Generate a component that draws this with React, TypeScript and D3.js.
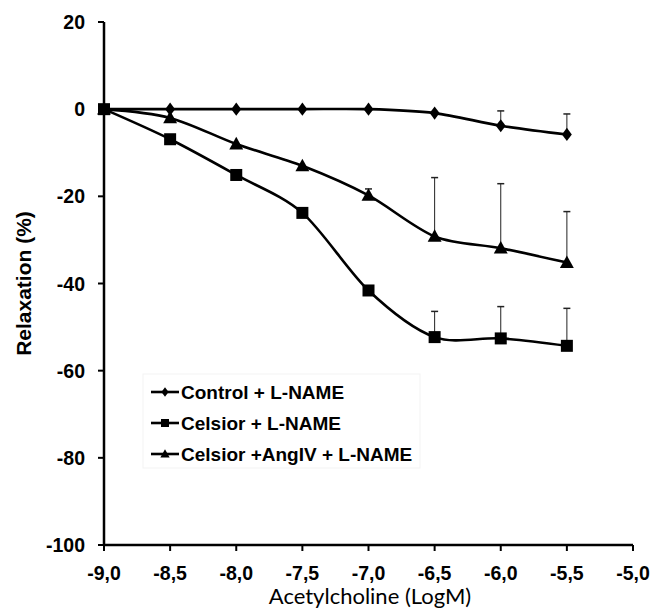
import React from 'react';
import * as d3 from 'd3';

// dimensions
const width = 654;
const height = 611;
const margin = { left: 104, right: 21, top: 22, bottom: 66 };

// data
const doses = [-9, -8.5, -8, -7.5, -7, -6.5, -6, -5.5];
const controlValues = [0, 0, 0, 0, 0, -0.9, -3.8, -5.8];
const controlErrors = [0, 0, 0, 0, 0, 0, 3.4, 4.7];
const celsiorValues = [0, -6.9, -15.1, -23.8, -41.6, -52.3, -52.6, -54.3];
const celsiorErrors = [0, 0, 0, 0, 0, 5.9, 7.3, 8.6];
const angValues = [0, -2, -8, -13, -19.8, -29.2, -31.9, -35.2];
const angErrors = [0, 0, 0, 0, 1.5, 13.5, 14.8, 11.7];

const xTicks = [-9, -8.5, -8, -7.5, -7, -6.5, -6, -5.5, -5];
const yTicks = [20, 0, -20, -40, -60, -80, -100];

const seriesNames = ['Control + L-NAME', 'Celsior + L-NAME', 'Celsior +AngIV + L-NAME'];
const seriesShapes = ['diamond', 'square', 'triangle'];

const x = d3.scaleLinear().domain([-9, -5]).range([margin.left, width - margin.right]);
const y = d3.scaleLinear().domain([-100, 20]).range([height - margin.bottom, margin.top]);

const fmt = (v: number) => v.toFixed(1).replace('.', ',');

function marker(shape: string, cx: number, cy: number, s: number, key?: any) {
  if (shape === 'diamond') {
    return <path key={key} d={`M${cx},${cy - s * 0.6}L${cx + s * 0.45},${cy}L${cx},${cy + s * 0.6}L${cx - s * 0.45},${cy}Z`} fill="#000" />;
  }
  if (shape === 'square') {
    return <rect key={key} x={cx - s / 2} y={cy - s / 2} width={s} height={s} fill="#000" />;
  }
  return <path key={key} d={`M${cx},${cy - s * 0.6}L${cx + s * 0.58},${cy + s * 0.45}L${cx - s * 0.58},${cy + s * 0.45}Z`} fill="#000" />;
}

export default function App() {
  const series = [
    { values: controlValues, errors: controlErrors, size: 11 },
    { values: celsiorValues, errors: celsiorErrors, size: 12 },
    { values: angValues, errors: angErrors, size: 12 },
  ];
  const line = d3.line<number>()
    .x((_, i) => x(doses[i]))
    .y(d => y(d))
    .curve(d3.curveCardinal.tension(0.1));

  const font = 'Liberation Sans, Arial, sans-serif';
  const x0 = margin.left;
  const y0 = height - margin.bottom;

  return (
    <svg width={width} height={height} style={{ position: 'absolute', left: 0, top: 0, background: '#fff' }}>
      {/* error bars */}
      {series.map((s, si) => s.values.map((v, i) => s.errors[i] > 0 ? (
        <g key={`e${si}-${i}`} stroke="#222" strokeWidth={1}>
          <line x1={x(doses[i])} x2={x(doses[i])} y1={y(v)} y2={y(v + s.errors[i])} />
          <line x1={x(doses[i]) - 3.5} x2={x(doses[i]) + 3.5} y1={y(v + s.errors[i])} y2={y(v + s.errors[i])} strokeWidth={1.5} />
        </g>
      ) : null))}
      {/* lines */}
      {series.map((s, si) => (
        <path key={`l${si}`} d={line(s.values) || ''} fill="none" stroke="#000" strokeWidth={2.6} />
      ))}
      {/* markers */}
      {series.map((s, si) => s.values.map((v, i) => marker(seriesShapes[si], x(doses[i]), y(v), s.size, `m${si}-${i}`)))}

      {/* axes */}
      <line x1={x0} x2={x0} y1={y(20)} y2={y0} stroke="#000" strokeWidth={2.5} />
      <line x1={x0} x2={width - margin.right} y1={y0} y2={y0} stroke="#000" strokeWidth={2.5} />
      {yTicks.map(t => (
        <g key={`yt${t}`}>
          <line x1={x0 - 6} x2={x0} y1={y(t)} y2={y(t)} stroke="#000" strokeWidth={2} />
          <text x={x0 - 19} y={y(t)} dy="0.36em" textAnchor="end" fontFamily={font} fontWeight="bold" fontSize={19.5}>{t}</text>
        </g>
      ))}
      {xTicks.map(t => (
        <g key={`xt${t}`}>
          <line x1={x(t)} x2={x(t)} y1={y0} y2={y0 + 6} stroke="#000" strokeWidth={2} />
          <text x={x(t)} y={y0 + 35} textAnchor="middle" fontFamily={font} fontWeight="bold" fontSize={19.5}>{fmt(t)}</text>
        </g>
      ))}
      <text transform={`translate(31,${(y(20) + y0) / 2}) rotate(-90)`} textAnchor="middle" fontFamily={font} fontWeight="bold" fontSize={21}>Relaxation (%)</text>
      <text x={370} y={604} textAnchor="middle" fontFamily="Lato, Open Sans, sans-serif" fontSize={22}>Acetylcholine (LogM)</text>

      {/* legend */}
      <rect x={143} y={374} width={277} height={94} fill="#fff" stroke="#f3f3f3" strokeWidth={1} />
      {seriesNames.map((n, i) => {
        const ly = 392 + i * 31;
        return (
          <g key={`lg${i}`}>
            <line x1={151} x2={179} y1={ly} y2={ly} stroke="#000" strokeWidth={2.6} />
            {marker(seriesShapes[i], 165, ly, 8)}
            <text x={181} y={ly} dy="0.36em" fontFamily={font} fontWeight="bold" fontSize={19}>{n}</text>
          </g>
        );
      })}
    </svg>
  );
}
